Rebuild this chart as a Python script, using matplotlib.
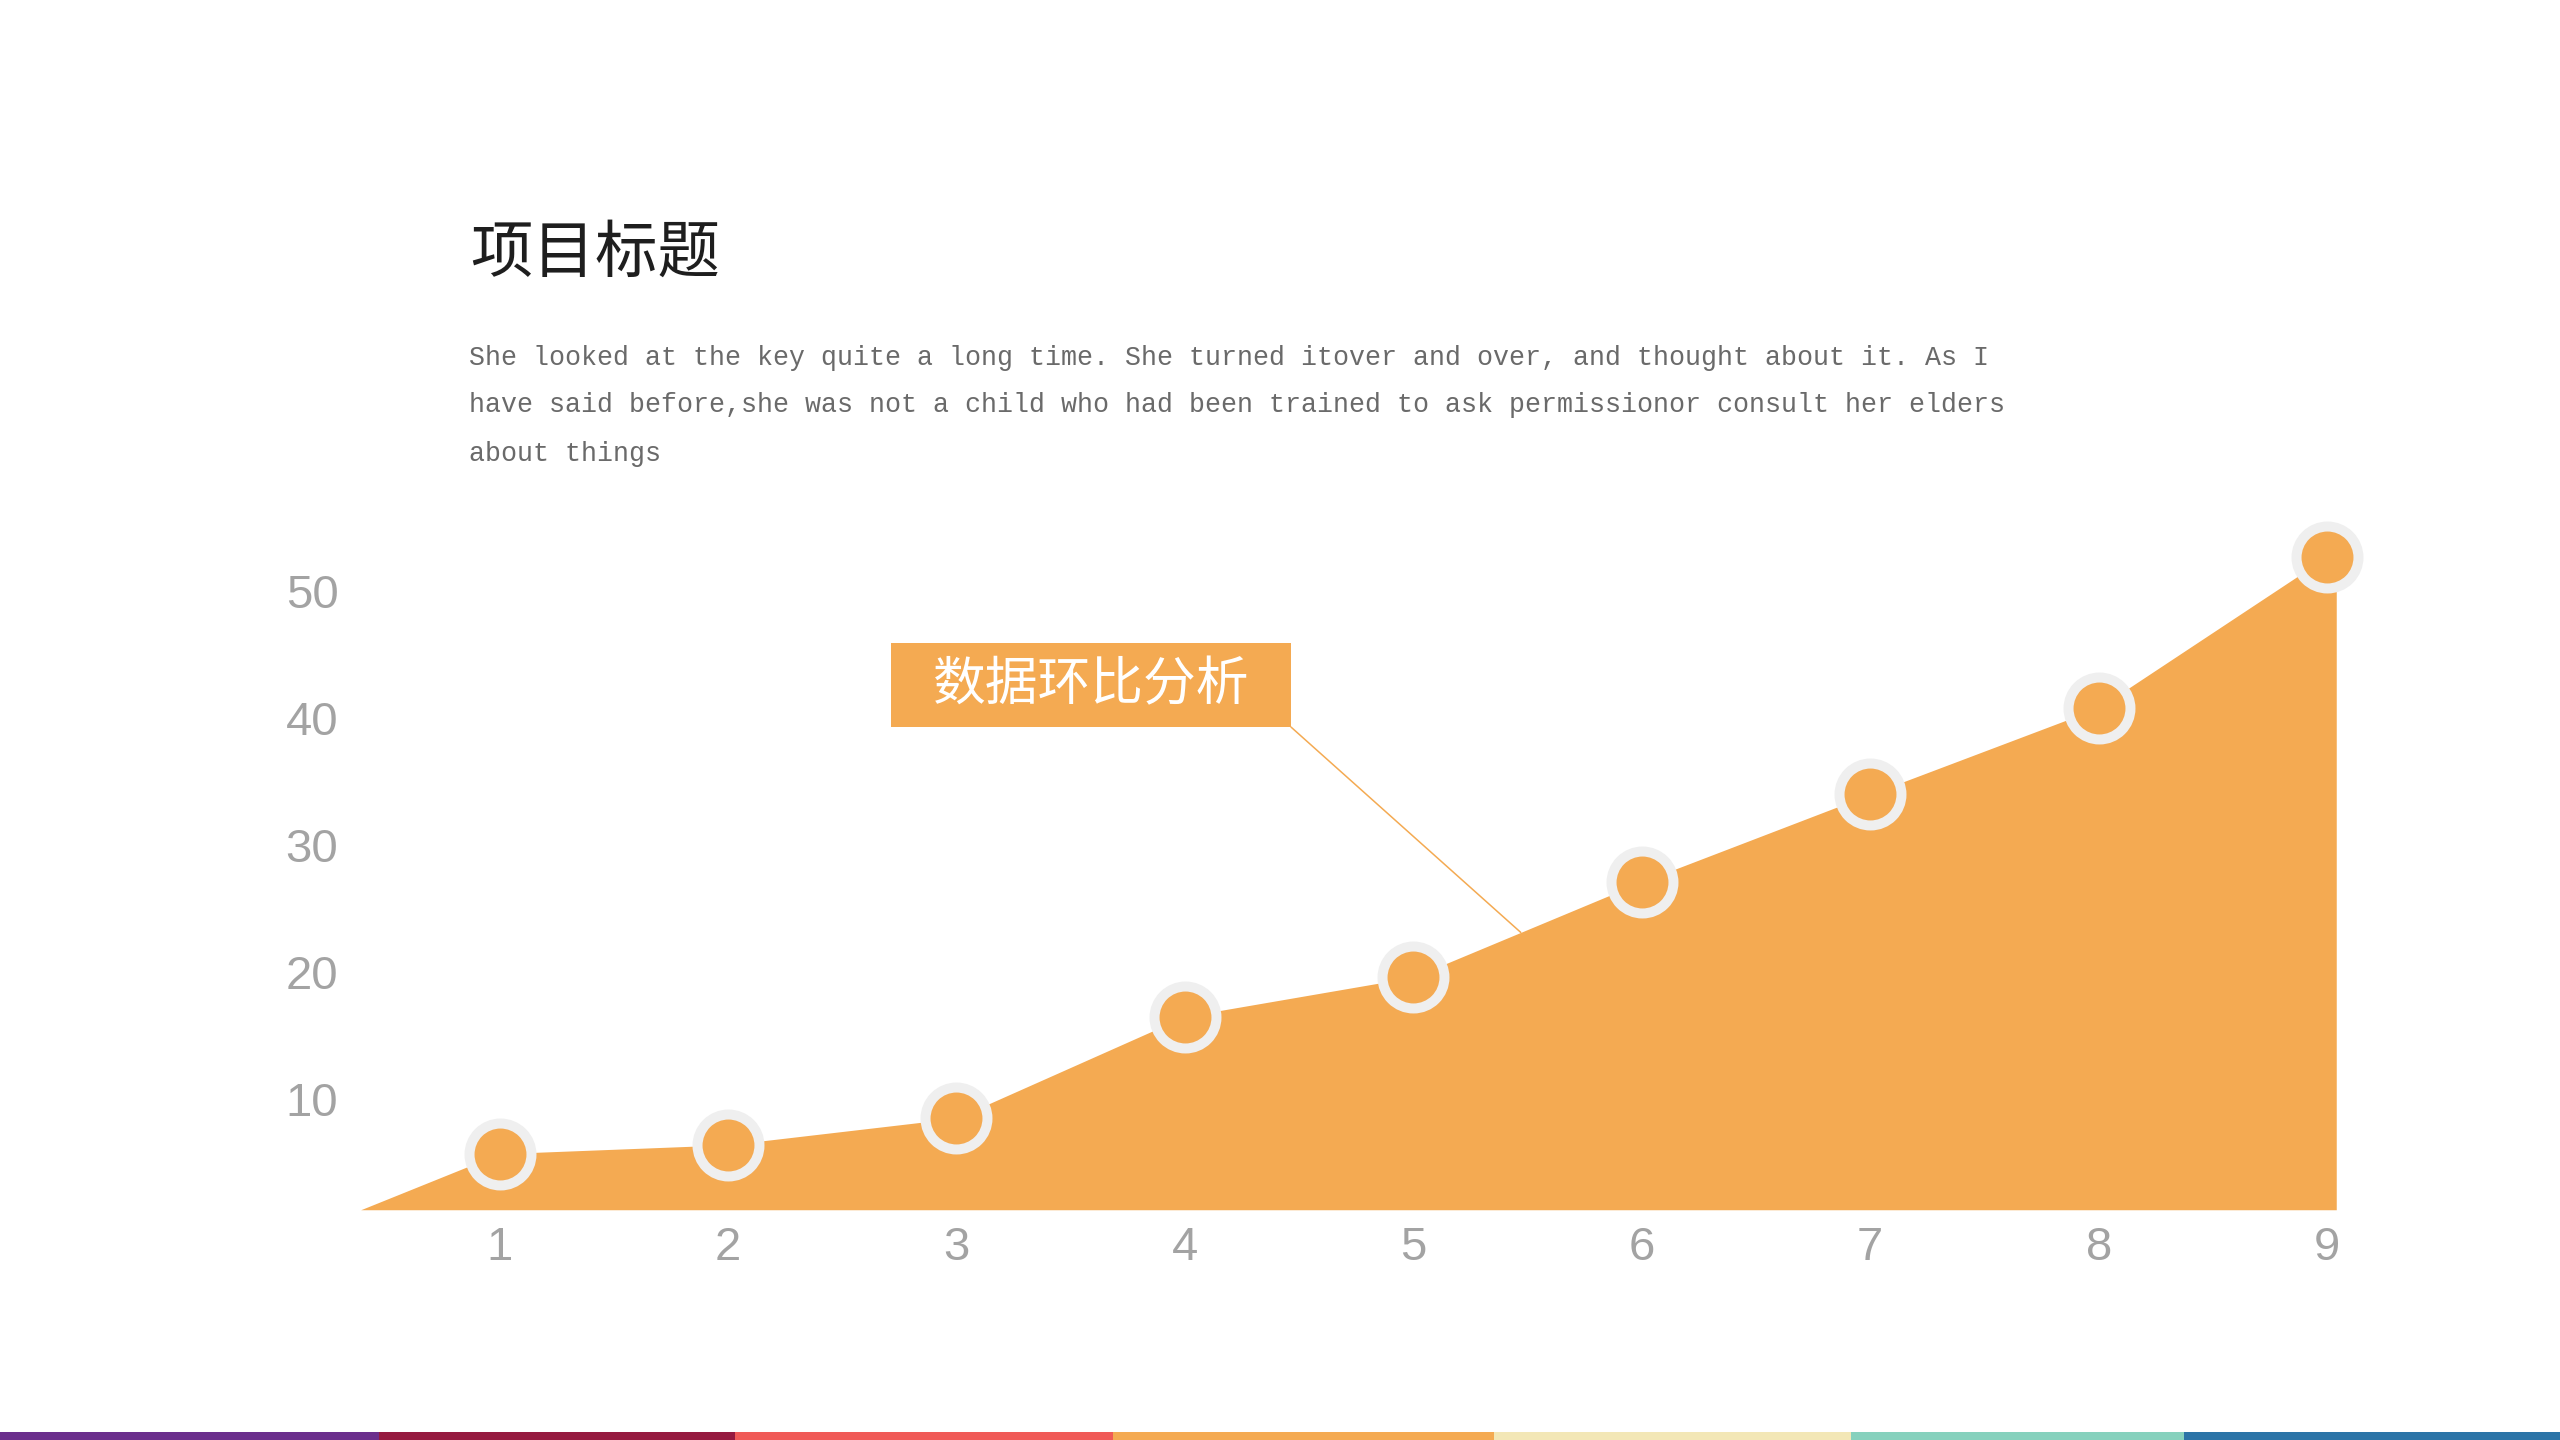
import numpy as np
import matplotlib
matplotlib.use("Agg")
import matplotlib.pyplot as plt
from matplotlib.patches import Rectangle
from matplotlib import font_manager

# ---- data ----
categories = ["1", "2", "3", "4", "5", "6", "7", "8", "9"]
values = [5.7, 6.4, 8.5, 16.5, 19.6, 27.1, 34.0, 40.8, 52.7]
y_ticks = [10, 20, 30, 40, 50]
title = "项目标题"
body_lines = [
    "She looked at the key quite a long time. She turned itover and over, and thought about it. As I",
    "have said before,she was not a child who had been trained to ask permissionor consult her elders",
    "about things",
]
callout = "数据环比分析"
stripe_colors = ["#6B2E8C", "#961A40", "#F05A57", "#F4AA52", "#F3E7B6", "#86D1BD", "#2B74A7"]
stripe_widths = [232, 218, 232, 233, 219, 204, 230]

ORANGE = "#F4AA52"
RING = "#EFEFEF"
GRAY = "#A3A3A3"

plt.rcParams["font.family"] = ["Noto Sans CJK SC", "DejaVu Sans"]

# pick a narrow sans for the tick numbers if available
names = {f.name for f in font_manager.fontManager.ttflist}
if "Liberation Sans Narrow" in names:
    tick_font = dict(family="Liberation Sans Narrow", stretch="normal", size=38)
elif "DejaVu Sans Condensed" in names:
    tick_font = dict(family="DejaVu Sans Condensed", stretch="normal", size=33)
else:
    tick_font = dict(family="Liberation Sans", stretch="normal", size=34)

fig = plt.figure(figsize=(25.6, 14.4), dpi=100)
fig.patch.set_facecolor("white")

# ---- axes ----
ax = fig.add_axes([0.1409, 0.1599, 0.7717, 0.4773])
pos = np.arange(len(values))
xlim = (-0.608, 8.04)
ylim = (1.29, 55.4)
ax.set_xlim(*xlim)
ax.set_ylim(*ylim)

xs = np.concatenate([[xlim[0]], pos, [xlim[1]]])
ys = np.concatenate([[ylim[0]], values, [values[-1]]])
ax.fill_between(xs, ys, ylim[0], color=ORANGE, linewidth=0, zorder=2)

ax.plot(pos, values, linestyle="none", marker="o", markersize=44.6,
        markerfacecolor=ORANGE, markeredgecolor=RING, markeredgewidth=7.2,
        clip_on=False, zorder=4)

for s in ax.spines.values():
    s.set_visible(False)
ax.set_xticks(pos)
ax.set_xticklabels(categories)
ax.set_yticks(y_ticks)
ax.set_yticklabels([str(t) for t in y_ticks])
ax.tick_params(axis="both", length=0, colors=GRAY)
ax.tick_params(axis="y", pad=16)
ax.tick_params(axis="x", pad=12)
for lab in ax.get_xticklabels() + ax.get_yticklabels():
    lab.set_fontfamily(tick_font["family"])
    lab.set_fontsize(tick_font["size"])
    lab.set_color(GRAY)
ax.patch.set_alpha(0)

# ---- callout ----
target_x = 4.47
target_y = float(np.interp(target_x, pos, values))
box = Rectangle((0.348, 0.4951), 0.1563, 0.0583, transform=fig.transFigure,
                facecolor=ORANGE, edgecolor="none", zorder=5)
fig.patches.append(box)
fig.text(0.4262, 0.5245, callout, color="white", fontsize=38, ha="center", va="center",
         family=["Noto Sans CJK SC", "DejaVu Sans"], zorder=6)
ax.annotate("", xy=(target_x, target_y), xycoords="data",
            xytext=(0.348 + 0.1563, 0.4951), textcoords="figure fraction",
            arrowprops=dict(arrowstyle="-", color=ORANGE, lw=1.1, shrinkA=0, shrinkB=0),
            zorder=3, annotation_clip=False)

# ---- title and body ----
fig.text(0.1836, 0.824, title, fontsize=45, color="#1E1E1E", ha="left", va="center",
         family=["Noto Sans CJK SC", "DejaVu Sans"], fontweight="light")
body_y = [0.7517, 0.7188, 0.6847]
for yy, line in zip(body_y, body_lines):
    fig.text(0.1832, yy, line, fontsize=19.2, color="#6A6A6A", ha="left", va="center",
             family=["Liberation Mono", "DejaVu Sans Mono"])

# ---- bottom stripe ----
total = float(sum(stripe_widths))
x0 = 0.0
for c, w in zip(stripe_colors, stripe_widths):
    fig.patches.append(Rectangle((x0, 0.0), w / total, 8 / 1440, transform=fig.transFigure,
                                 facecolor=c, edgecolor="none"))
    x0 += w / total

fig.savefig("out.png", dpi=100, facecolor="white")
